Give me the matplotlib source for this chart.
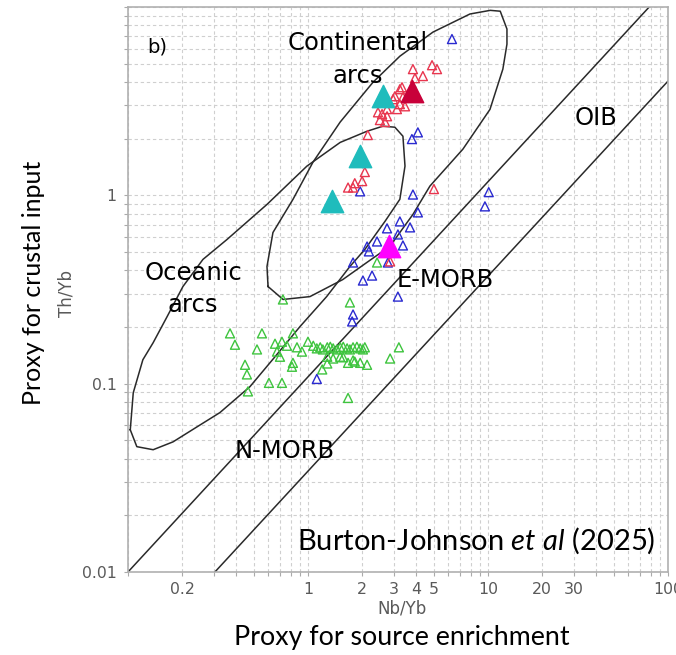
import matplotlib.pyplot as plt
import numpy as np

# values (Nb/Yb on x, Th/Yb on y)
GREEN_NB = [0.369, 0.555, 0.825, 0.393, 0.521, 0.656, 0.717, 0.764, 0.673, 0.699,
            0.869, 0.926, 1.00, 1.07, 1.12, 1.17, 1.21, 1.28, 1.33, 1.38,
            1.45, 1.51, 1.57, 1.65, 1.71, 1.78, 1.87, 1.95, 2.02, 2.07,
            1.28, 1.38, 1.51, 1.57, 1.67, 1.78, 1.82, 1.95, 2.13, 1.20,
            1.28, 0.825, 0.815, 0.447, 0.458, 0.464, 0.607, 0.717, 2.86, 3.20,
            1.67, 1.71, 2.42, 0.726]
GREEN_TH = [0.185, 0.185, 0.185, 0.161, 0.152, 0.163, 0.167, 0.159, 0.148, 0.139,
            0.156, 0.148, 0.167, 0.159, 0.154, 0.156, 0.152, 0.156, 0.157, 0.154,
            0.152, 0.156, 0.157, 0.154, 0.152, 0.156, 0.157, 0.154, 0.152, 0.156,
            0.139, 0.136, 0.139, 0.138, 0.129, 0.133, 0.131, 0.129, 0.126, 0.119,
            0.128, 0.129, 0.123, 0.126, 0.112, 0.091, 0.101, 0.101, 0.136, 0.156,
            0.084, 0.270, 0.440, 0.280]

BLUE_NB = [6.31, 4.08, 3.78, 1.95, 3.83, 10.1, 9.62, 4.08, 3.24, 3.69,
           2.75, 3.16, 2.42, 2.13, 2.18, 3.37, 1.78, 2.78, 2.27, 2.02,
           3.16, 1.78, 1.76, 1.12]
BLUE_TH = [6.76, 2.16, 1.99, 1.05, 1.01, 1.04, 0.874, 0.812, 0.727, 0.676,
           0.668, 0.620, 0.569, 0.535, 0.504, 0.542, 0.440, 0.440, 0.375, 0.353,
           0.290, 0.233, 0.214, 0.106]

RED_NB = [3.83, 4.89, 5.21, 4.35, 3.93, 3.33, 3.24, 3.04, 3.37, 2.97,
          3.24, 3.46, 3.12, 2.75, 2.58, 2.75, 2.51, 2.68, 2.45, 2.15,
          2.07, 2.00, 1.82, 1.67, 1.78, 5.01, 2.86]
RED_TH = [4.68, 4.91, 4.68, 4.30, 4.19, 3.75, 3.66, 3.36, 3.32, 3.24,
          3.05, 2.97, 2.87, 2.87, 2.70, 2.63, 2.51, 2.45, 2.76, 2.09,
          1.33, 1.19, 1.16, 1.10, 1.10, 1.08, 0.446]

CYAN_NB = [2.61, 1.94, 1.36]
CYAN_TH = [3.36, 1.61, 0.929]
CRIMSON_NB = [3.78]
CRIMSON_TH = [3.57]
MAGENTA_NB = [2.82]
MAGENTA_TH = [0.536]

# MORB-OIB array boundaries
ARRAY_UP_NB = [0.1, 79.4]
ARRAY_UP_TH = [0.01, 10.1]
ARRAY_LO_NB = [0.304, 100]
ARRAY_LO_TH = [0.01, 4.04]

# arc fields (closed outlines)
OCEANIC_NB = [0.103, 0.107, 0.121, 0.138, 0.165, 0.202, 0.261, 0.355, 0.592, 0.987,
              1.51, 2.13, 2.61, 3.04, 3.37, 3.46, 3.24, 2.68, 2.07, 1.71,
              1.27, 0.903, 0.656, 0.476, 0.324, 0.242, 0.178, 0.138, 0.112]
OCEANIC_TH = [0.0569, 0.0895, 0.134, 0.165, 0.227, 0.328, 0.457, 0.583, 0.895, 1.43,
              1.91, 2.19, 2.33, 2.30, 2.06, 1.43, 0.953, 0.728, 0.516, 0.419,
              0.290, 0.201, 0.139, 0.0964, 0.0702, 0.059, 0.0491, 0.0446, 0.0463]
CONT_NB = [0.600, 0.592, 0.639, 0.826, 1.066, 1.51, 2.30, 3.24, 4.95, 7.94,
           10.3, 11.7, 12.75, 12.75, 12.1, 10.26, 7.26, 4.76, 3.83, 2.85,
           2.13, 1.56, 1.026, 0.727]
CONT_TH = [0.328, 0.419, 0.635, 0.953, 1.50, 2.45, 3.99, 5.48, 7.36, 9.18,
           9.6, 9.5, 7.64, 6.35, 4.68, 2.86, 1.76, 1.12, 0.792, 0.536,
           0.441, 0.357, 0.290, 0.280]

X_LABELED = [0.2, 1, 2, 3, 4, 5, 10, 20, 30, 100]
Y_LABELED = [0.01, 0.1, 1]

plt.rcParams['mathtext.fontset'] = 'custom'
plt.rcParams['mathtext.rm'] = 'Lato'
plt.rcParams['mathtext.it'] = 'Lato:italic'

fig = plt.figure(figsize=(6.76, 6.55), dpi=100)
ax = fig.add_axes([0.1893, 0.1267, 0.7988, 0.8626])
ax.set_xscale('log')
ax.set_yscale('log')

gridc = '#cfcfcf'
xt = [m * 10.0 ** e for e in range(-1, 2) for m in range(1, 10)] + [100]
yt = [m * 10.0 ** e for e in range(-2, 1) for m in range(1, 10)] + [10]
ax.set_xticks(xt)
ax.set_xticklabels(['%g' % v if any(np.isclose(v, X_LABELED)) else '' for v in xt])
ax.set_yticks(yt)
ax.set_yticklabels(['%g' % v if any(np.isclose(v, Y_LABELED)) else '' for v in yt])
ax.minorticks_off()
ax.set_xlim(0.1, 100)
ax.set_ylim(0.01, 10)
ax.grid(True, color=gridc, linestyle=(0, (3, 2.5)), linewidth=0.8)
ax.set_axisbelow(True)
ax.tick_params(direction='out', length=3, width=0.8, color='#aaaaaa',
               labelcolor='#5a5a5a', labelsize=11.3)
ax.tick_params(axis='x', pad=4)
ax.tick_params(axis='y', pad=5)
for s in ax.spines.values():
    s.set_color('#b0b0b0')
    s.set_linewidth(1.2)

lc = '#2a2a2a'
ax.plot(ARRAY_UP_NB, ARRAY_UP_TH, color=lc, lw=1.1)
ax.plot(ARRAY_LO_NB, ARRAY_LO_TH, color=lc, lw=1.1)
ax.plot(OCEANIC_NB + OCEANIC_NB[:1], OCEANIC_TH + OCEANIC_TH[:1], color=lc, lw=1.1)
ax.plot(CONT_NB + CONT_NB[:1], CONT_TH + CONT_TH[:1], color=lc, lw=1.1)

ax.scatter(GREEN_NB, GREEN_TH, marker='^', s=42, facecolors='none',
           edgecolors='#3ec43e', linewidths=1.0, zorder=3)
ax.scatter(BLUE_NB, BLUE_TH, marker='^', s=42, facecolors='none',
           edgecolors='#2a2ad0', linewidths=1.0, zorder=3)
ax.scatter(RED_NB, RED_TH, marker='^', s=42, facecolors='none',
           edgecolors='#e8364f', linewidths=1.0, zorder=3)
ax.scatter(CYAN_NB, CYAN_TH, marker='^', s=260, color='#1fbcbc', zorder=4)
ax.scatter(CRIMSON_NB, CRIMSON_TH, marker='^', s=260, color='#c8003a', zorder=4)
ax.scatter(MAGENTA_NB, MAGENTA_TH, marker='^', s=260, color='#ff00ff', zorder=4)

fs = 17.5
tr = ax.transAxes
ax.text(0.035, 0.929, 'b)', transform=tr, fontsize=14, va='center')
ax.text(0.426, 0.924, 'Continental', transform=tr, fontsize=fs, ha='center', va='baseline')
ax.text(0.426, 0.866, 'arcs', transform=tr, fontsize=fs, ha='center', va='baseline')
ax.text(0.867, 0.791, 'OIB', transform=tr, fontsize=fs, ha='center', va='baseline')
ax.text(0.122, 0.517, 'Oceanic', transform=tr, fontsize=fs, ha='center', va='baseline')
ax.text(0.120, 0.460, 'arcs', transform=tr, fontsize=fs, ha='center', va='baseline')
ax.text(0.587, 0.504, 'E-MORB', transform=tr, fontsize=fs, ha='center', va='baseline')
ax.text(0.291, 0.202, 'N-MORB', transform=tr, fontsize=fs, ha='center', va='baseline')
ax.text(0.976, 0.039, 'Burton-Johnson $\\it{et\\ al}$ (2025)', transform=tr,
        fontsize=21, ha='right', va='baseline', family='Lato')

fig.text(0.594, 0.071, 'Nb/Yb', ha='center', va='center', fontsize=12, color='#5a5a5a')
fig.text(0.594, 0.027, 'Proxy for source enrichment', ha='center', va='center',
         fontsize=19.3, family='Lato')
fig.text(0.099, 0.552, 'Th/Yb', ha='center', va='center', rotation=90,
         fontsize=12, color='#5a5a5a')
fig.text(0.049, 0.568, 'Proxy for crustal input', ha='center', va='center',
         rotation=90, fontsize=18, family='Lato')

fig.savefig('out.png', dpi=100)
